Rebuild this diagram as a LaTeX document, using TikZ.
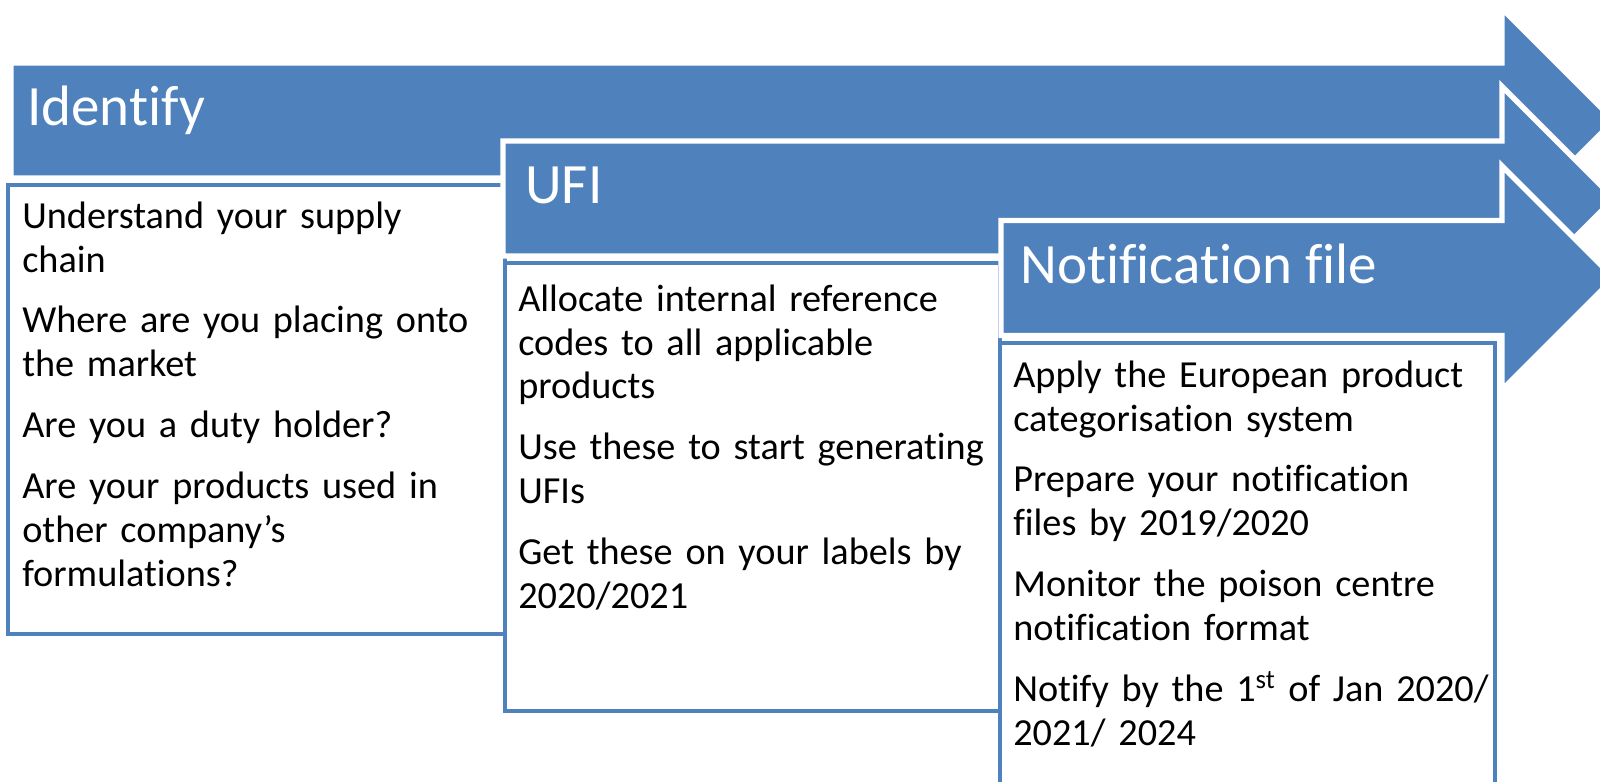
\documentclass[tikz,border=0pt]{standalone}
\usepackage{fontspec}
\setmainfont{Carlito}[Ligatures=NoCommon]
\usepackage{tikz}
\usetikzlibrary{positioning}
\definecolor{stepblue}{RGB}{79,129,189}
\tikzset{
    bigarrow/.style={fill=stepblue, draw=white, line width=3.6pt, line join=miter},
    infobox/.style={fill=white, draw=stepblue, line width=3.3pt},
    steptitle/.style={anchor=base west, inner sep=0pt, text=white,
        font=\fontsize{38}{46}\selectfont},
    steptext/.style={anchor=north west, inner sep=0pt, text width=320pt, align=left,
        font=\fontsize{25.5}{29.3}\selectfont},
}
% arrow: left end x, centre y
\newcommand{\flowarrow}[2]{%
    \draw[bigarrow] (#1,#2-57.5) -- (1502,#2-57.5) -- (1502,#2-112) -- (1614,#2)
        -- (1502,#2+112) -- (1502,#2+57.5) -- (#1,#2+57.5) -- cycle;}

\begin{document}
\begin{tikzpicture}[x=0.6667pt, y=-0.6667pt]
	\useasboundingbox (0,0) rectangle (1600,782);
	\clip (0,0) rectangle (1600,782);
	% Identify
	\flowarrow{11}{120.5}
	\node[steptitle] (identify) at (27,126) {Identify};
	\draw[infobox] (8,185) rectangle (505,634);
	\node[steptext] (identifytext) at (22,197) {\strut Understand your supply\\ chain\\[11.3pt]
		Where are you placing onto\\ the market\\[11.3pt]
		Are you a duty holder?\\[11.3pt]
		Are your products used in\\ other company’s\\ formulations?};
	% UFI
	\flowarrow{503}{198.5}
	\node[steptitle] (ufi) at (525,204) {UFI};
	\draw[infobox] (505,263) rectangle (1000,711);
	\node[steptext] (ufitext) at (518,280) {\strut Allocate internal reference\\ codes to all applicable\\ products\\[11.3pt]
		Use these to start generating\\ UFIs\\[11.3pt]
		Get these on your labels by\\ 2020/2021};
	% Notification file
	\flowarrow{1001}{278}
	\node[steptitle] (notif) at (1020,284) {Notification file};
	\draw[infobox] (1000,343) rectangle (1495,820);
	\node[steptext] (notiftext) at (1013,356) {\strut Apply the European product\\ categorisation system\\[11.3pt]
		Prepare your notification\\ files by 2019/2020\\[11.3pt]
		Monitor the poison centre\\ notification format\\[11.3pt]
		Notify by the 1\textsuperscript{st} of Jan 2020/\\ 2021/ 2024};
\end{tikzpicture}
\end{document}
